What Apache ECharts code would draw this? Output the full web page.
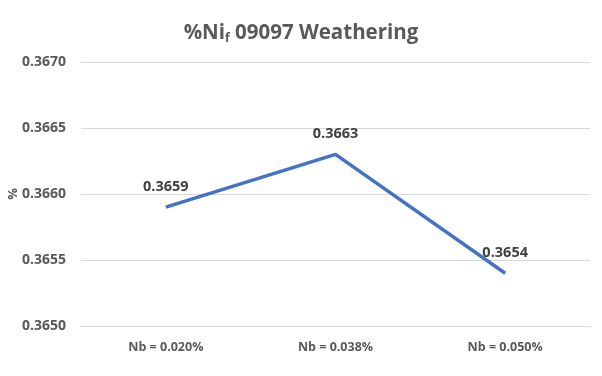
<!DOCTYPE html>
<html>
<head>
<meta charset="utf-8">
<script src="https://cdn.jsdelivr.net/npm/echarts@6/dist/echarts.min.js"></script>
<style>
  html, body { margin: 0; padding: 0; background: #fff; }
  #chart { width: 602px; height: 376px; }
</style>
</head>
<body>
<div id="chart"></div>
<script>
// Nickel fraction by niobium content
const categories = ['Nb = 0.020%', 'Nb = 0.038%', 'Nb = 0.050%'];
const niValues = [0.3659, 0.3663, 0.3654];
const yMin = 0.3650, yMax = 0.3670, yStep = 0.0005;

const chart = echarts.init(document.getElementById('chart'));
chart.setOption({
  animation: false,
  title: {
    text: '{a|%Ni}{s|f}{a| 09097 Weathering}',
    left: 'center',
    top: 16,
    textStyle: {
      rich: {
        a: { fontFamily: 'Open Sans', fontSize: 20.5, fontWeight: 'bold', color: '#595959' },
        s: { fontFamily: 'Open Sans', fontSize: 12, fontWeight: 'bold', color: '#595959', verticalAlign: 'bottom', padding: [12, 0, 0, 0] }
      }
    }
  },
  grid: { left: 81, right: 12, top: 62, bottom: 50, outerBoundsMode: 'none' },
  xAxis: {
    type: 'category',
    data: categories,
    axisLine: { lineStyle: { color: '#d9d9d9', width: 1 } },
    axisTick: { show: false },
    axisLabel: { color: '#595959', fontFamily: 'Open Sans', fontSize: 12.5, fontWeight: 'bold', margin: 15 }
  },
  yAxis: {
    type: 'value',
    min: yMin, max: yMax, interval: yStep,
    name: '%',
    nameLocation: 'middle',
    nameGap: 61,
    nameMoveOverlap: false,
    nameTextStyle: { color: '#595959', fontFamily: 'Open Sans', fontSize: 13, fontWeight: 'bold' },
    axisLine: { show: false },
    axisTick: { show: false },
    splitLine: { lineStyle: { color: '#d9d9d9', width: 1 } },
    axisLabel: {
      color: '#595959', fontFamily: 'Open Sans', fontSize: 14, fontWeight: 'bold', margin: 15,
      formatter: v => v.toFixed(4)
    }
  },
  series: [{
    type: 'line',
    data: niValues,
    symbol: 'circle',
    symbolSize: 0,
    showSymbol: true,
    itemStyle: { color: '#4472C4' },
    lineStyle: { color: '#4472C4', width: 3.5 },
    label: {
      show: true,
      position: 'top',
      distance: 13,
      color: '#404040',
      fontFamily: 'Open Sans',
      fontSize: 14.5,
      fontWeight: 'bold',
      formatter: p => p.value.toFixed(4)
    }
  }]
});
</script>
</body>
</html>
